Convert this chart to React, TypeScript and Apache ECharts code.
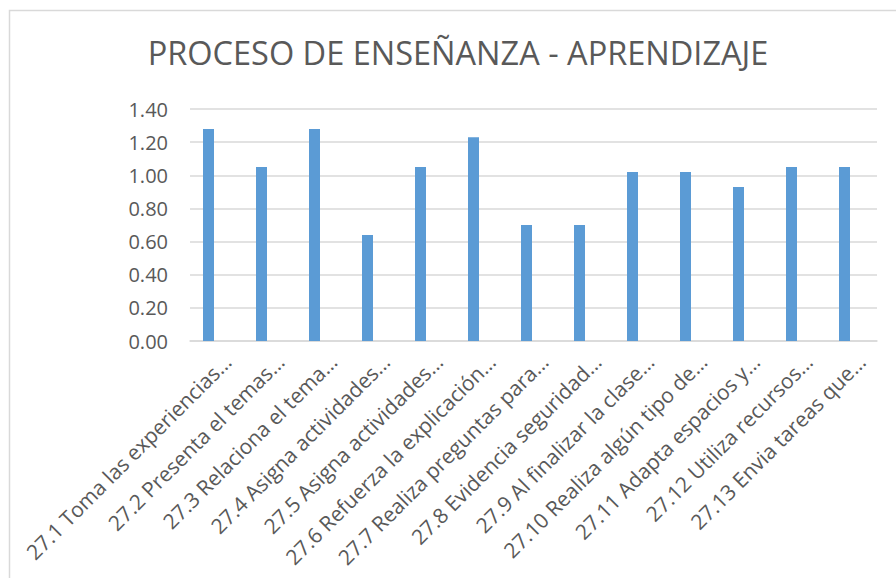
import React, { useEffect, useRef } from "react";
import * as echarts from "echarts";

const titleText = "PROCESO DE ENSEÑANZA - APRENDIZAJE";

const categories = [
  "27.1 Toma las experiencias…",
  "27.2 Presenta el temas…",
  "27.3 Relaciona el tema…",
  "27.4 Asigna actividades…",
  "27.5 Asigna actividades…",
  "27.6 Refuerza la explicación…",
  "27.7 Realiza preguntas para…",
  "27.8 Evidencia seguridad…",
  "27.9 Al finalizar la clase…",
  "27.10 Realiza algún tipo de…",
  "27.11 Adapta espacios y…",
  "27.12 Utiliza recursos…",
  "27.13 Envia tareas que…",
];

const values = [1.28, 1.05, 1.28, 0.64, 1.05, 1.23, 0.7, 0.7, 1.02, 1.02, 0.93, 1.05, 1.05];

const yMin = 0;
const yMax = 1.4;
const yInterval = 0.2;

const FONT = "'Open Sans', 'Noto Sans', sans-serif";
const TEXT_COLOR = "#595959";
const GRID_COLOR = "#d9d9d9";
const BAR_COLOR = "#5b9bd5";

export default function App() {
  const ref = useRef<HTMLDivElement>(null);

  useEffect(() => {
    if (!ref.current) return;
    const chart = echarts.init(ref.current, null, { renderer: "svg" });
    const hiddenY = (idx: number) => ({
      type: "value",
      gridIndex: idx,
      min: yMin,
      max: yMax,
      interval: yInterval,
      show: false,
    });
    chart.setOption({
      animation: false,
      backgroundColor: "#ffffff",
      textStyle: { fontFamily: FONT },
      title: {
        text: titleText,
        left: 453,
        top: 31,
        textAlign: "center",
        textStyle: {
          fontFamily: FONT,
          fontSize: 32.5,
          fontWeight: "normal",
          color: TEXT_COLOR,
        },
      },
      graphic: [
        {
          type: "rect",
          shape: { x: 9.5, y: 10.5, width: 900, height: 600 },
          style: { fill: "none", stroke: GRID_COLOR, lineWidth: 1.5 },
          silent: true,
          z: 100,
        },
      ],
      grid: [
        { left: 190, right: 19, top: 109, bottom: 237, containLabel: false },
        { left: 182, right: 25, top: 109, bottom: 237, containLabel: false },
        { left: 201, right: 8, top: 109, bottom: 237, containLabel: false },
      ],
      xAxis: [
        {
          type: "category",
          gridIndex: 0,
          data: categories,
          axisLine: { show: true, lineStyle: { color: GRID_COLOR, width: 1.5 } },
          axisTick: { show: false },
          axisLabel: { show: false },
        },
        {
          type: "category",
          gridIndex: 1,
          data: categories,
          show: false,
        },
        {
          type: "category",
          gridIndex: 2,
          data: categories,
          axisLine: { show: false },
          axisTick: { show: false },
          axisLabel: {
            rotate: 45,
            interval: 0,
            margin: 17,
            fontFamily: FONT,
            fontSize: 21,
            color: TEXT_COLOR,
          },
        },
      ],
      yAxis: [
        {
          type: "value",
          gridIndex: 0,
          min: yMin,
          max: yMax,
          interval: yInterval,
          axisLine: { show: false },
          axisTick: { show: false },
          splitLine: { show: true, lineStyle: { color: GRID_COLOR, width: 1.5 } },
          axisLabel: {
            margin: 22,
            fontFamily: FONT,
            fontSize: 20,
            color: TEXT_COLOR,
            formatter: (v: number) => v.toFixed(2),
          },
        },
        hiddenY(1),
        hiddenY(2),
      ],
      series: [
        {
          type: "bar",
          xAxisIndex: 1,
          yAxisIndex: 1,
          data: values,
          barWidth: 11,
          itemStyle: { color: BAR_COLOR },
        },
      ],
    });
    return () => chart.dispose();
  }, []);

  return (
    <div
      ref={ref}
      style={{ position: "absolute", left: 0, top: 0, width: 896, height: 578 }}
    />
  );
}
